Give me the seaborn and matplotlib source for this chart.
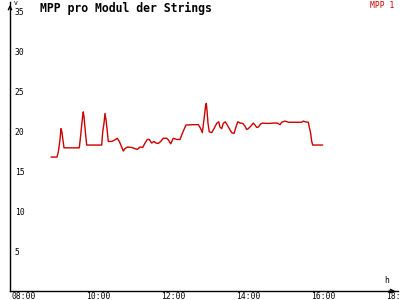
import matplotlib
matplotlib.use("Agg")
import matplotlib.pyplot as plt
import matplotlib.transforms as mtransforms
import seaborn as sns
import pandas as pd
import numpy as np
from matplotlib.ticker import FixedLocator, FuncFormatter

sns.set_theme(style="white")
plt.rcParams['font.family'] = ['DejaVu Sans Mono', 'DejaVu Sans']
plt.rcParams['text.color'] = 'black'

# time in decimal hours
hours = [8.960, 9.120, 9.155, 9.181, 9.200, 9.227, 9.253, 9.272, 9.307,
         9.715, 9.752, 9.779, 9.805, 9.821, 9.840, 9.859, 9.885, 9.912,
         10.312, 10.339, 10.373, 10.400, 10.427, 10.453, 10.488,
         10.579, 10.667, 10.728, 10.781, 10.845, 10.888, 10.933, 10.995,
         11.112, 11.200, 11.261, 11.333, 11.405, 11.467, 11.528, 11.581,
         11.645, 11.707, 11.760, 11.821, 11.885, 11.955, 12.045, 12.088,
         12.152, 12.221, 12.312, 12.400, 12.445, 12.488, 12.560, 12.755,
         12.888, 12.952, 12.995, 13.021, 13.059, 13.085, 13.101, 13.120,
         13.147, 13.181, 13.245, 13.307, 13.379, 13.432, 13.467, 13.512,
         13.555, 13.608, 13.661, 13.715, 13.779, 13.840, 13.893, 13.939,
         14.000, 14.072, 14.133, 14.179, 14.221, 14.285, 14.355, 14.400,
         14.445, 14.488, 14.552, 14.605, 14.667, 14.800, 14.888, 14.995,
         15.067, 15.112, 15.200, 15.288, 15.645, 15.688, 15.733, 15.821,
         15.848, 15.885, 15.912, 15.939, 16.205]
volts = [16.75, 16.75, 17.4, 18.25, 18.95, 20.3, 19.8, 19.1, 17.9,
         17.9, 19.5, 20.75, 21.9, 22.4, 21.8, 20.75, 19.5, 18.25,
         18.25, 19.9, 20.96, 22.2, 21.4, 20.3, 18.7,
         18.7, 18.9, 19.1, 18.7, 18.0, 17.5, 17.8, 18.0,
         17.95, 17.8, 17.7, 18.0, 17.95, 18.5, 18.95, 18.95,
         18.5, 18.7, 18.5, 18.45, 18.7, 19.1, 19.1, 18.9,
         18.4, 19.1, 18.95, 18.95, 19.5, 20.0, 20.75, 20.8,
         20.8, 20.3, 19.8, 20.75, 22.2, 23.25, 23.45, 22.6,
         20.96, 19.9, 19.8, 20.3, 20.96, 21.16, 20.5, 20.3,
         20.96, 21.16, 20.75, 20.3, 19.8, 19.7, 20.5, 21.16,
         21.0, 20.96, 20.6, 20.2, 20.3, 20.6, 21.0, 20.75,
         20.46, 20.5, 20.9, 21.0, 20.96, 20.96, 21.0, 21.0,
         20.8, 21.1, 21.25, 21.1, 21.1, 21.25, 21.16, 21.1,
         20.5, 19.7, 18.7, 18.25, 18.25]

title = "MPP pro Modul der Strings"
series_name = "MPP 1"
y_ticks = [5, 10, 15, 20, 25, 30, 35]
x_ticks = [8, 10, 12, 14, 16, 18]

df = pd.DataFrame({"t": hours, "v": volts})

fig = plt.figure(figsize=(4, 3), dpi=100)
ax = fig.add_axes([0.025, 0.03, 0.97, 0.963])
red = "#cc0000"
sns.lineplot(data=df, x="t", y="v", ax=ax, color=red, linewidth=1.0, legend=False)

ax.set_xlim(8 - 5/37.5, 8 + 383/37.5)
ax.set_ylim(0, 289/8)
for s in ["top", "right"]:
    ax.spines[s].set_visible(False)
for s in ["left", "bottom"]:
    ax.spines[s].set_color("black")
    ax.spines[s].set_linewidth(1.0)

ax.yaxis.set_major_locator(FixedLocator(y_ticks))
ax.xaxis.set_major_locator(FixedLocator(x_ticks))
ax.xaxis.set_major_formatter(FuncFormatter(lambda v, p: f"{int(v):02d}:00"))
ax.tick_params(axis="y", direction="inout", length=6, width=1, pad=-6.5,
               labelsize=5.8, colors="black")
ax.tick_params(axis="x", direction="inout", length=6, width=1, pad=-2.2,
               labelsize=5.8, colors="black")
for lab in ax.get_yticklabels():
    lab.set_horizontalalignment("left")
shift = mtransforms.ScaledTranslation(-3.5/100, 0, fig.dpi_scale_trans)
for lab in ax.get_xticklabels():
    lab.set_horizontalalignment("left")
    lab.set_transform(lab.get_transform() + shift)
ax.set_xlabel("")
ax.set_ylabel("")

# axis arrows
ax.annotate("", xy=(0, 1.0), xycoords="axes fraction", xytext=(0, 0.97),
            arrowprops=dict(arrowstyle="->", color="black", lw=1, mutation_scale=6))
ax.annotate("", xy=(1.0, 0), xycoords="axes fraction", xytext=(0.97, 0),
            arrowprops=dict(arrowstyle="->", color="black", lw=1, mutation_scale=6))

fig.text(14/400, 1 - 1/300, "V", fontsize=4.5, ha="left", va="top", color="black")
fig.text(384/400, 1 - 285/300, "h", fontsize=5.8, ha="left", va="bottom", color="black")
fig.text(40/400, 1 - 2/300, title, fontsize=8.3, fontweight="bold", ha="left", va="top",
         color="black")
fig.text(394/400, 1 - 1/300, series_name, fontsize=5.8, color=red, ha="right", va="top")

fig.savefig("out.png", dpi=100)
